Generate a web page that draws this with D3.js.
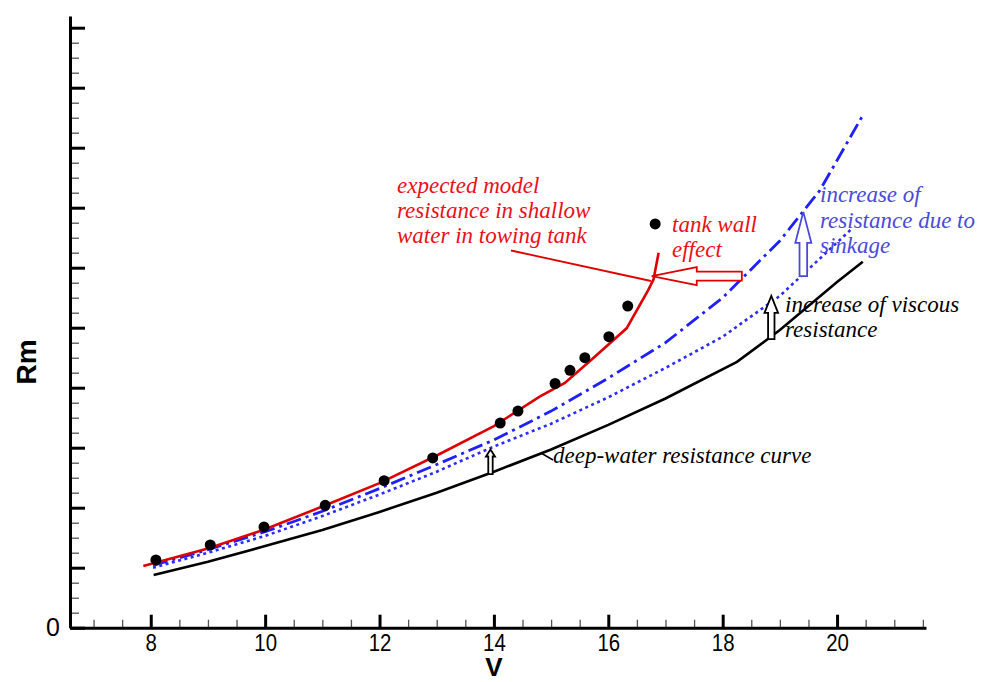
<!DOCTYPE html>
<html><head><meta charset="utf-8">
<script src="https://cdn.jsdelivr.net/npm/d3@7"></script>
<style>
html,body{margin:0;padding:0;background:#fff;}
svg{display:block;}
</style></head>
<body>
<svg id="chart" width="987" height="682"></svg>
<script>
// ---------- data ----------
const xMajorTicks = [8, 10, 12, 14, 16, 18, 20];
const yMajorTicks = [0,1,2,3,4,5,6,7,8,9,10];
const yTickLabels = ["0"];

const measuredV  = [8.09, 9.04, 9.98, 11.05, 12.08, 12.93, 14.11, 14.42, 15.07, 15.33, 15.59, 16.01, 16.34, 16.82];
const measuredRm = [1.13, 1.38, 1.68, 2.04, 2.45, 2.83, 3.41, 3.61, 4.07, 4.29, 4.50, 4.85, 5.36, 6.73];

const deepV  = [8.05, 9, 10, 11, 12, 13, 14, 15, 16, 17, 18.25, 19, 20, 20.45];
const deepRm = [0.88, 1.10, 1.36, 1.63, 1.93, 2.25, 2.60, 2.97, 3.38, 3.82, 4.43, 4.96, 5.76, 6.10];

const viscV  = [8.04, 9, 10, 11, 12, 13, 14, 15, 16, 17, 18, 19, 20.27];
const viscRm = [1.00, 1.25, 1.53, 1.86, 2.22, 2.60, 3.02, 3.40, 3.84, 4.33, 4.85, 5.53, 6.66];

const sinkV  = [8.04, 9, 10, 11, 12, 13, 14, 15, 16, 17, 18, 19, 19.7, 20.45];
const sinkRm = [1.04, 1.30, 1.60, 1.94, 2.32, 2.72, 3.13, 3.61, 4.16, 4.75, 5.50, 6.45, 7.29, 8.54];

const shallowV  = [7.87, 9, 10, 11, 12, 13, 14, 14.8, 15.24, 15.7, 16.32, 16.70, 16.79, 16.88];
const shallowRm = [1.03, 1.32, 1.64, 2.02, 2.41, 2.87, 3.36, 3.85, 4.08, 4.46, 4.99, 5.63, 5.80, 6.25];

// ---------- layout ----------
const svg = d3.select("#chart");
const x = d3.scaleLinear().domain([6.588, 21.555]).range([70, 926]);
const y = d3.scaleLinear().domain([0, 10.195]).range([627.7, 16]);

const zip = (a, b) => a.map((v, i) => [v, b[i]]);
const line = d3.line().x(d => x(d[0])).y(d => y(d[1]));
const sans = "'Liberation Sans', Arial, sans-serif";

// ---------- axes ----------
const xMinor = d3.range(7, 21.51, 0.5).filter(v => !xMajorTicks.includes(v));
const yMinor = d3.range(0.25, 10.01, 0.25).filter(v => Math.abs(v - Math.round(v)) > 1e-6);

const gx = svg.append("g").attr("transform", `translate(0,${y(0)})`);
gx.append("g").call(d3.axisBottom(x).tickValues(xMinor).tickSizeInner(-8).tickSizeOuter(0).tickFormat(""))
  .call(g => g.select(".domain").remove())
  .selectAll("line").attr("stroke", "#555").attr("stroke-width", 1.3);
gx.append("g").call(d3.axisBottom(x).tickValues(xMajorTicks).tickSizeInner(-13).tickSizeOuter(0).tickPadding(6))
  .call(g => g.select(".domain").attr("stroke", "#000").attr("stroke-width", 3))
  .call(g => g.selectAll("line").attr("stroke", "#000").attr("stroke-width", 3))
  .call(g => g.selectAll("text").attr("font-family", sans).style("font-size", "24px")
    .attr("fill", "#000").attr("transform", "scale(0.85,1)"));

const gy = svg.append("g").attr("transform", `translate(${x.range()[0]},0)`);
gy.append("g").call(d3.axisLeft(y).tickValues(yMinor).tickSizeInner(-9).tickSizeOuter(0).tickFormat(""))
  .call(g => g.select(".domain").remove())
  .selectAll("line").attr("stroke", "#555").attr("stroke-width", 1.3);
gy.append("g").call(d3.axisLeft(y).tickValues(yMajorTicks).tickSizeInner(-15).tickSizeOuter(0).tickPadding(10)
    .tickFormat(d => yTickLabels[d] !== undefined ? yTickLabels[d] : ""))
  .call(g => g.select(".domain").attr("stroke", "#000").attr("stroke-width", 3))
  .call(g => g.selectAll("line").attr("stroke", "#000").attr("stroke-width", 3))
  .call(g => g.selectAll("text").attr("font-family", sans).style("font-size", "25px").attr("fill", "#000"));

// axis titles
svg.append("text").attr("x", x(14)).attr("y", 676).attr("text-anchor", "middle")
  .attr("font-family", sans).attr("font-weight", "bold")
  .style("font-size", "26px").text("V");
svg.append("text").attr("transform", `translate(36,362) rotate(-90)`).attr("text-anchor", "middle")
  .attr("font-family", sans).attr("font-weight", "bold")
  .style("font-size", "28px").text("Rm");

// ---------- curves ----------
svg.append("path").datum(zip(deepV, deepRm)).attr("d", line)
  .attr("fill", "none").attr("stroke", "#000").attr("stroke-width", 2.6);
svg.append("path").datum(zip(viscV, viscRm)).attr("d", line)
  .attr("fill", "none").attr("stroke", "#2b2bff").attr("stroke-width", 2.6).attr("stroke-dasharray", "3,3.5");
svg.append("path").datum(zip(sinkV, sinkRm)).attr("d", line)
  .attr("fill", "none").attr("stroke", "#1f1fff").attr("stroke-width", 2.8).attr("stroke-dasharray", "15,5,3,5");
svg.append("path").datum(zip(shallowV, shallowRm)).attr("d", line)
  .attr("fill", "none").attr("stroke", "#dd0000").attr("stroke-width", 2.6);

svg.append("g").selectAll("circle").data(zip(measuredV, measuredRm)).join("circle")
  .attr("cx", d => x(d[0])).attr("cy", d => y(d[1])).attr("r", 5.5).attr("fill", "#000");

// ---------- annotations ----------
function upArrow(vx, yBottom, yTip, headHalf, shaftHalf, headLen, color) {
  const cx = x(vx), b = y(yBottom), t = y(yTip), hb = t + headLen;
  const p = [[cx - shaftHalf, b], [cx - shaftHalf, hb], [cx - headHalf, hb], [cx, t],
             [cx + headHalf, hb], [cx + shaftHalf, hb], [cx + shaftHalf, b]];
  svg.append("path").attr("d", d3.line()(p) + "Z").attr("fill", "#fff")
    .attr("stroke", color).attr("stroke-width", 1.8);
}
upArrow(13.94, 2.56, 2.97, 4.5, 2.2, 7, "#000");
upArrow(18.85, 4.81, 5.53, 6.8, 3.2, 17, "#000");
upArrow(19.41, 5.86, 6.93, 8, 3.8, 31, "#4a4ad8");

// red hollow arrow pointing left
(function () {
  const tipX = x(16.76), cy = y(5.86), tail = x(18.335), hb = tipX + 45;
  const p = [[tail, cy - 4.5], [hb, cy - 4.5], [hb, cy - 9], [tipX, cy], [hb, cy + 9], [hb, cy + 4.5], [tail, cy + 4.5]];
  svg.append("path").attr("d", d3.line()(p) + "Z").attr("fill", "#fff")
    .attr("stroke", "#e00000").attr("stroke-width", 1.8);
})();

// leader lines
svg.append("line").attr("x1", 511).attr("y1", 250.5).attr("x2", 651).attr("y2", 281)
  .attr("stroke", "#e00000").attr("stroke-width", 1.8);
svg.append("line").attr("x1", 541).attr("y1", 453).attr("x2", 553).attr("y2", 460)
  .attr("stroke", "#000").attr("stroke-width", 1.5);

const serif = "'Liberation Serif', 'Times New Roman', serif";
function label(lines, x0, y0, dy, color) {
  const t = svg.append("text").attr("font-family", serif).attr("font-style", "italic")
    .style("font-size", "23px").attr("fill", color);
  lines.forEach((s, i) => t.append("tspan").attr("x", x0).attr("y", y0 + i * dy).text(s));
}
label(["expected model", "resistance in shallow", "water in towing tank"], 397, 193, 25, "#e8101a");
label(["tank wall", "effect"], 672, 232, 25, "#e8101a");
label(["increase of", "resistance due to", "sinkage"], 820, 202, 25.5, "#4a4ad8");
label(["increase of viscous", "resistance"], 785, 312, 25, "#000");
label(["deep-water resistance curve"], 553, 463, 25, "#000");
</script>
</body></html>
